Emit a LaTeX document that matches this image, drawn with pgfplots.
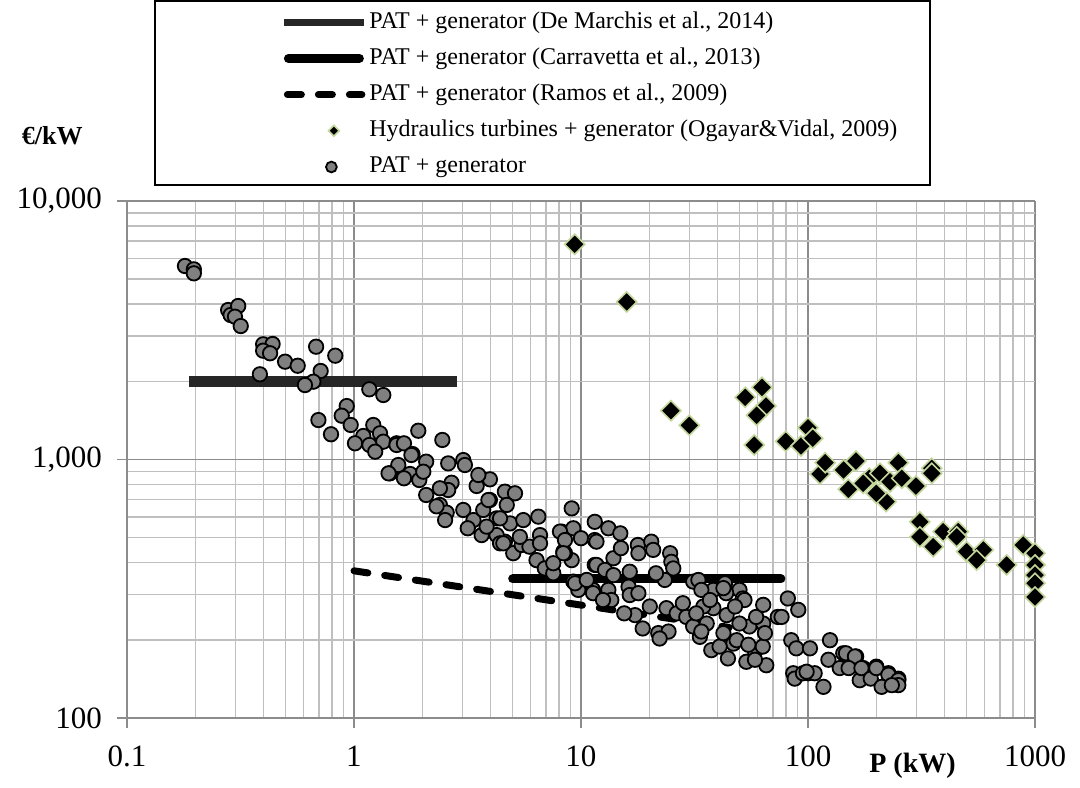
\documentclass[border=0pt]{standalone}
\usepackage{pgfplots}
\pgfplotsset{compat=1.18}
\usepackage{pgfplotstable}
\usepackage{fontspec}
\setmainfont{Liberation Serif}
\definecolor{gridminor}{HTML}{BFBFBF}
\definecolor{gridmajor}{HTML}{8C8C8C}
\definecolor{circfill}{HTML}{808080}
\definecolor{diaedge}{HTML}{C3D69B}
\definecolor{demarchis}{HTML}{262626}

\pgfplotsset{
  legA/.style={legend image code/.code={\draw[##1, line width=3.5pt] (0pt,0pt) -- (40pt,0pt);}},
  legB/.style={legend image code/.code={\draw[##1] (2.25pt,0pt) -- (37.75pt,0pt);}},
  legC/.style={legend image code/.code={\draw[##1] (1.75pt,0pt) -- (39pt,0pt);}},
  legD/.style={legend image code/.code={\path[draw=none,fill=none] (0pt,0pt) -- (40pt,0pt);
    \draw[##1, mark size=1.9pt] plot coordinates {(25pt,0pt)};}},
  legE/.style={legend image code/.code={\path[draw=none,fill=none] (0pt,0pt) -- (40pt,0pt);
    \draw[##1, mark size=2.7pt] plot coordinates {(23.75pt,0pt)};}},
}

\pgfplotstableread{
x y
0.180 5605
0.197 5440
0.197 5250
0.279 3787
0.286 3622
0.309 3925
0.299 3568
0.317 3283
0.398 2790
0.438 2798
0.398 2636
0.427 2576
0.497 2390
0.565 2305
0.385 2136
0.681 2731
0.827 2521
0.713 2200
0.662 2000
0.608 1941
1.168 1869
1.346 1776
0.929 1610
0.883 1477
0.967 1360
0.697 1421
0.792 1252
1.216 1360
1.099 1233
1.302 1263
1.01 1155
1.346 1172
1.542 1155
1.17 1138
1.24 1072
1.54 1138
1.66 1155
1.92 1292
2.45 1190
1.81 1050
2.08 981
1.44 884
1.567 952
1.765 879
1.66 846
1.94 833
2.02 897
2.60 966
3.03 995
3.08 952
2.69 813
2.60 762
2.08 729
2.39 667
2.56 623
2.52 583
3.47 790
3.97 838
3.53 871
3.03 638
3.36 583
3.65 510
3.71 638
3.97 697
4.62 751
5.12 740
4.71 667
4.25 592
4.87 566
4.62 481
5.03 434
5.48 467
5.57 583
6.49 601
6.6 510
5.93 460
6.37 408
8.22 526
9.1 647
9.25 542
9.1 408
6.93 379
7.55 363
8.5 434
4.25 510
3.17 542
3.84 550
4.40 474
5.38 502
6.6 474
1.79 1041
1.42 884
2.39 774
2.31 659
3.91 697
4.40 592
4.55 474
8.08 526
10.0 496
11.5 574
11.5 488
8.36 440
11.5 391
9.25 337
9.73 313
11.3 313
8.5 488
11.7 481
13.2 542
14.9 518
8.36 434
7.55 397
9.41 332
11.7 391
12.76 374
13.9 415
15.0 454
16.4 368
13.9 357
13.2 313
13.6 286
16.2 322
17.8 467
20.4 481
20.8 447
17.9 434
24.7 434
25.0 402
25.5 379
23.4 342
21.4 363
16.4 299
17.9 304
20.1 270
17.3 250
15.5 254
18.7 222
21.9 213
24.3 216
22.2 203
23.8 266
26.4 254
28.1 278
31.2 337
32.9 342
38.3 313
43.1 332
49.9 313
51.6 290
43.6 304
38.3 266
34.6 270
43.8 250
29.1 246
31.2 226
33.4 206
37.5 183
44.4 170
46.9 194
40.8 189
53.5 165
58.4 181
63.2 189
65.5 160
55.2 226
63.5 232
49.9 232
52.5 286
59.1 246
63.5 274
64.6 213
73.6 246
81.5 290
90.6 262
84.4 200
88.8 186
86.1 149
87.4 142
102 186
100 149
107 149
117 132
125 200
123 168
143 178
153 158
163 173
175 153
169 140
138 156
95 149
76.5 246
175 156
200 158
226 149
250 142
98.6 151
147 178
161 173
151 156
172 156
189 142
200 156
226 147
211 132
250 140
250 134
234 134
33.9 313
37.0 286
42.4 318
47.7 270
32.2 254
35.8 232
33.9 216
42.4 213
48.5 200
54.6 192
58.4 168
10.6 342
11.3 304
12.5 286
}\circles

\pgfplotstableread{
x y
9.38 6800
15.9 4070
24.9 1545
30.0 1356
52.9 1740
62.7 1901
65.3 1610
59.4 1483
58.0 1138
79.8 1175
93.1 1128
100 1327
105 1208
113 879
119 972
143.5 911
162.6 986
150.6 767
186 846
207.5 884
221 687
200 740
230 820
250 972
259 846
299 789
351 925
351 884
175 809
311 574
311 502
356 460
394 526
459 526
452 502
500 440
592 447
553 408
750 391
888 467
1000 434
1000 391
1000 357
1000 332
1000 294
}\diamonds

\begin{document}
\begin{tikzpicture}[x=1pt,y=1pt]
\begin{axis}[
  at={(0pt,0pt)}, anchor=south west,
  scale only axis, width=454pt, height=258.5pt,
  xmode=log, ymode=log,
  xmin=0.1, xmax=1000, ymin=100, ymax=10000,
  clip=false,
  axis lines=left,
  axis line style={-, draw=gridmajor, line width=0.8pt},
  grid=both,
  minor grid style={draw=gridminor, line width=0.75pt},
  major grid style={draw=gridmajor, line width=0.75pt},
  xtick={0.1,1,10,100,1000},
  xticklabels={\mbox{0.1},\mbox{1},\mbox{10},\mbox{100},\mbox{1000}},
  minor xtick={0.2,0.3,0.4,0.5,0.6,0.7,0.8,0.9,2,3,4,5,6,7,8,9,20,30,40,50,60,70,80,90,200,300,400,500,600,700,800,900},
  ytick={100,1000,10000},
  yticklabels={\mbox{100},\mbox{1,000},\mbox{10,000}},
  minor ytick={200,300,400,500,600,700,800,900,2000,3000,4000,5000,6000,7000,8000,9000},
  tick align=outside, major tick length=5pt, minor tick length=0pt,
  tick style={draw=gridmajor, line width=0.8pt},
  ticklabel style={font=\fontsize{15.5}{18}\selectfont},
  yticklabel style={xshift=-4pt},
  xticklabel style={yshift=-5.5pt},
  legend cell align=left,
  legend style={at={(0.1685,1.3698)}, anchor=north west, draw=none, fill=none,
    inner sep=0pt, row sep=6.1pt, column sep=0pt,
    nodes={inner xsep=1pt, inner ysep=0pt, text height=9pt, text depth=3pt,
      font=\fontsize{12}{14}\selectfont}},
]
\addplot[demarchis, line width=5.5pt, line cap=butt, legA]
  coordinates {(0.188,2000) (2.83,2000)};
\addlegendentry{PAT + generator (De Marchis et al., 2014)}
\addplot[black, line width=4.5pt, line cap=round, legB]
  coordinates {(5.0,345) (76,345)};
\addlegendentry{PAT + generator (Carravetta et al., 2013)}
\addplot[black, line width=3.5pt, line cap=round, dash pattern=on 7pt off 8.5pt, legC]
  coordinates {(1.0,371) (45,224)};
\addlegendentry{PAT + generator (Ramos et al., 2009)}
\addplot[only marks, mark=square*, mark size=3.55pt,
  mark options={rotate=45, fill=black, draw=diaedge, line width=0.8pt}, legD]
  table[x=x, y=y] {\diamonds};
\addlegendentry{Hydraulics turbines + generator (Ogayar\&Vidal, 2009)}
\addplot[only marks, mark=*, mark size=3.6pt,
  mark options={fill=circfill, draw=black, line width=0.9pt}, legE]
  table[x=x, y=y] {\circles};
\addlegendentry{PAT + generator}
\end{axis}
\draw[black, line width=0.75pt] (14pt,266.5pt) rectangle (401.5pt,358.5pt);
\node[anchor=east, inner sep=0pt, font=\bfseries\fontsize{13}{15}\selectfont] at (-22pt,291pt) {€/kW};
\node[anchor=west, inner sep=0pt, font=\bfseries\fontsize{14}{16}\selectfont] at (371pt,-24pt) {P (kW)};
\pgfresetboundingbox
\useasboundingbox (-63.5pt,-34.5pt) rectangle (476.5pt,359pt);
\end{tikzpicture}
\end{document}
